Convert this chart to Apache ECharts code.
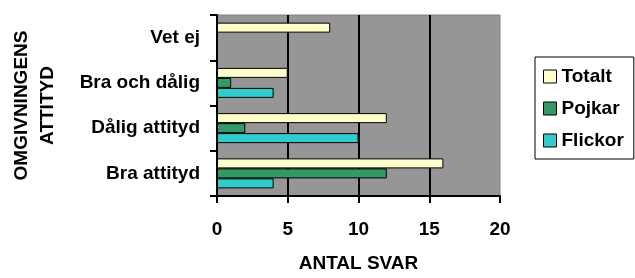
<!DOCTYPE html>
<html>
<head>
<meta charset="utf-8">
<script src="https://cdn.jsdelivr.net/npm/echarts@6/dist/echarts.min.js"></script>
<style>
  html, body { margin: 0; padding: 0; background: #fff; }
  #chart { width: 635px; height: 278px; }
</style>
</head>
<body>
<div id="chart"></div>
<script>
// categories bottom -> top, as the y axis runs
let categories = ['Bra attityd', 'Dålig attityd', 'Bra och dålig', 'Vet ej'];
let totalt = [16, 12, 5, 8];
let pojkar = [12, 2, 1, 0];
let flickor = [4, 10, 4, 0];
let xTicks = [0, 20, 5];  // min, max, interval

let font = 'Arial, "Liberation Sans", sans-serif';

function barSeries(name, data, color) {
    return {
        name: name,
        type: 'bar',
        data: data,
        barWidth: 10,
        barGap: '0%',
        itemStyle: { color: color, borderColor: '#000', borderWidth: 1 }
    };
}

var myChart = echarts.init(document.getElementById('chart'));
var option = {
    animation: false,
    textStyle: { fontFamily: font, color: '#000' },
    grid: {
        left: 217, right: 135, top: 15, bottom: 77,
        show: true,
        backgroundColor: '#969696',
        borderColor: '#808080',
        borderWidth: 1
    },
    legend: {
        orient: 'vertical',
        left: 535,
        top: 57,
        padding: [10, 10, 9, 8],
        itemGap: 13,
        itemWidth: 13,
        itemHeight: 13,
        icon: 'rect',
        borderColor: '#000',
        borderWidth: 1,
        itemStyle: { borderColor: '#000', borderWidth: 1 },
        textStyle: { fontFamily: font, fontSize: 19, fontWeight: 'bold', color: '#000' },
        data: ['Totalt', 'Pojkar', 'Flickor']
    },
    xAxis: {
        type: 'value',
        min: xTicks[0],
        max: xTicks[1],
        interval: xTicks[2],
        name: 'ANTAL SVAR',
        nameLocation: 'middle',
        nameGap: 58,
        nameTextStyle: { fontFamily: font, fontSize: 19, fontWeight: 'bold', color: '#000' },
        axisLine: { show: true, lineStyle: { color: '#000', width: 2 } },
        axisTick: { show: true, length: 7, lineStyle: { color: '#000', width: 2 } },
        axisLabel: { margin: 24, fontFamily: font, fontSize: 19, fontWeight: 'bold', color: '#000' },
        splitLine: { show: true, showMinLine: false, showMaxLine: false, lineStyle: { color: '#000', width: 2 } }
    },
    yAxis: {
        type: 'category',
        data: categories,
        name: 'OMGIVNINGENS\nATTITYD',
        nameLocation: 'middle',
        nameRotate: 90,
        nameGap: 156,
        nameTextStyle: { fontFamily: font, fontSize: 19, fontWeight: 'bold', color: '#000', lineHeight: 26, align: 'center' },
        axisLine: { show: true, lineStyle: { color: '#000', width: 2 } },
        axisTick: { show: true, length: 7, lineStyle: { color: '#000', width: 2 } },
        axisLabel: { margin: 17, fontFamily: font, fontSize: 19, fontWeight: 'bold', color: '#000' },
        splitLine: { show: false }
    },
    series: [
        barSeries('Totalt', totalt, '#FFFFCC'),
        barSeries('Pojkar', pojkar, '#339966'),
        barSeries('Flickor', flickor, '#33CCCC')
    ]
};
myChart.setOption(option);
</script>
</body>
</html>
